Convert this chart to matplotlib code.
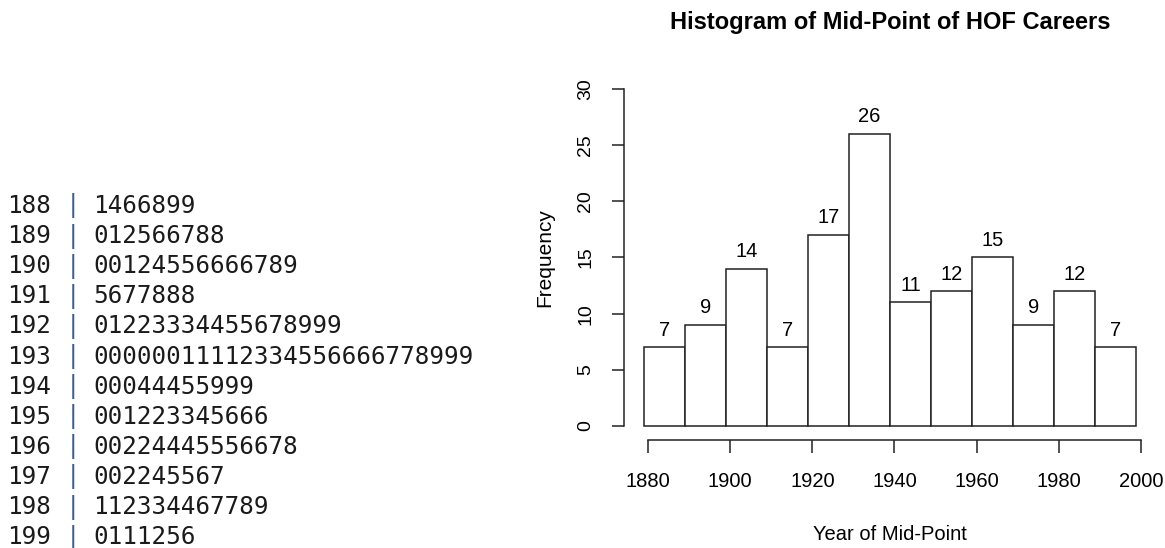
import matplotlib
matplotlib.use("Agg")
import matplotlib.pyplot as plt

W, H = 1165, 548

# histogram data (mid-point of HOF careers)
bin_edges = [1880, 1890, 1900, 1910, 1920, 1930, 1940, 1950, 1960, 1970, 1980, 1990, 2000]
counts = [7, 9, 14, 7, 17, 26, 11, 12, 15, 9, 12, 7]
x_ticks = [1880, 1900, 1920, 1940, 1960, 1980, 2000]
y_ticks = [0, 5, 10, 15, 20, 25, 30]

# stem-and-leaf display
stems = ["188", "189", "190", "191", "192", "193", "194", "195", "196", "197", "198", "199"]
leaves = [
    "1466899",
    "012566788",
    "00124556666789",
    "5677888",
    "01223334455678999",
    "00000011112334556666778999",
    "00044455999",
    "001223345666",
    "00224445556678",
    "002245567",
    "112334467789",
    "0111256",
]

FONT = "Liberation Sans"
MONO = "DejaVu Sans Mono"

fig = plt.figure(figsize=(W / 100, H / 100), dpi=100)


def fx(px):
    return px / W


def fy(py):
    return 1 - py / H


# main axes (R usr: 4% padding)
pos = [fx(624), fy(439.5), 532 / W, 364 / H]
ax = fig.add_axes(pos)
ax.bar(bin_edges[:-1], counts, width=10, align="edge",
       facecolor="white", edgecolor="#222222", linewidth=1.1)
ax.set_xlim(1875.2, 2004.8)
ax.set_ylim(-1.2, 31.2)

for s in ["top", "right", "bottom"]:
    ax.spines[s].set_visible(False)
ax.spines["left"].set_bounds(0, 30)
ax.spines["left"].set_color("#222222")
ax.spines["left"].set_linewidth(1.1)
ax.set_xticks([])
ax.set_yticks(y_ticks)
ax.set_yticklabels([str(v) for v in y_ticks], rotation=90, va="center",
                   fontsize=14, family=FONT)
ax.tick_params(axis="y", length=8.6, width=1.1, color="#222222", pad=13)

for x0, c in zip(bin_edges[:-1], counts):
    ax.annotate(str(c), (x0 + 5, c), xytext=(0, 5.5), textcoords="offset points",
                ha="center", va="bottom", fontsize=14.5, family=FONT)

# x axis drawn a few pixels to the right, as in the reference
axx = fig.add_axes([pos[0] + 4.5 / W, pos[1], pos[2], pos[3]])
axx.patch.set_visible(False)
axx.set_xlim(1875.2, 2004.8)
axx.set_ylim(-1.2, 31.2)
for s in ["top", "right", "left"]:
    axx.spines[s].set_visible(False)
axx.spines["bottom"].set_bounds(1880, 2000)
axx.spines["bottom"].set_color("#222222")
axx.spines["bottom"].set_linewidth(1.1)
axx.set_yticks([])
axx.set_xticks(x_ticks)
axx.set_xticklabels([str(v) for v in x_ticks], fontsize=14.5, family=FONT)
axx.tick_params(axis="x", length=9.4, width=1.1, color="#222222", pad=14)

fig.text(fx(890), fy(23), "Histogram of Mid-Point of HOF Careers", ha="center", va="center",
         fontsize=17, fontweight="bold", family=FONT)
fig.text(fx(890), fy(535), "Year of Mid-Point", ha="center", va="center",
         fontsize=14.5, family=FONT)
fig.text(fx(545), fy(258), "Frequency", ha="center", va="center", rotation=90,
         fontsize=15, family=FONT)

# stem-and-leaf on the left
for i, (s, l) in enumerate(zip(stems, leaves)):
    yy = fy(206 + i * 30.1)
    fig.text(fx(7), yy, s, ha="left", va="center", fontsize=17.5,
             family=MONO, color="#1a1a1a")
    fig.text(fx(73), yy, "|", ha="center", va="center", fontsize=17.5,
             family=MONO, color="#3d5f8a")
    fig.text(fx(93), yy, l, ha="left", va="center", fontsize=17.5,
             family=MONO, color="#1a1a1a")

fig.savefig("out.png", dpi=100)
